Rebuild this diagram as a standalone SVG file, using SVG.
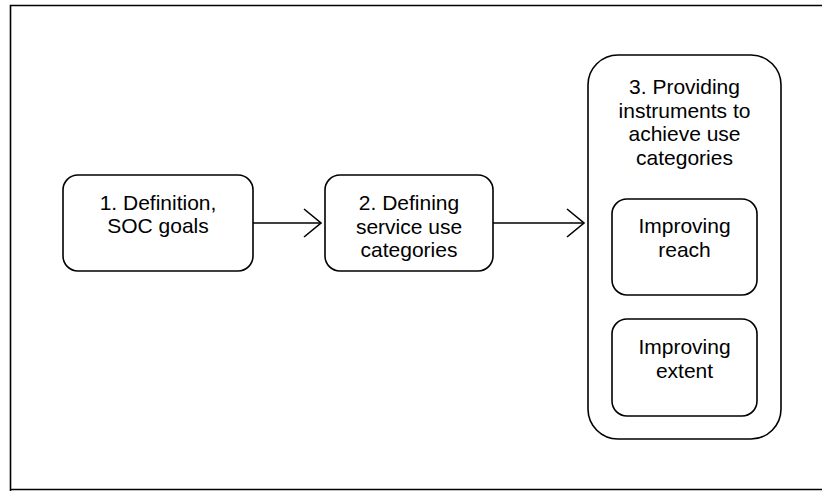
<svg xmlns="http://www.w3.org/2000/svg" width="822" height="491" viewBox="0 0 822 491">
  <style>
    .box { fill: #ffffff; stroke: #000000; stroke-width: 1.6; }
    .frame { fill: none; stroke: #000000; stroke-width: 1.6; }
    .lbl { font-family: "Liberation Sans", Arial, sans-serif; font-size: 21px; fill: #000000; text-anchor: middle; }
    .edge { fill: none; stroke: #000000; stroke-width: 1.6; }
  </style>
  <defs>
    <marker id="open-arrow" markerWidth="20" markerHeight="32" refX="18" refY="15" orient="auto" markerUnits="userSpaceOnUse">
      <path d="M1,1 L18,15 L1,29" fill="none" stroke="#000000" stroke-width="1.6"/>
    </marker>
  </defs>

  <rect width="822" height="491" fill="#ffffff"/>
  <!-- outer frame -->
  <path class="frame" d="M10.5,491 L10.5,5.5 L822,5.5 M10,489.5 L822,489.5"/>

  <g id="connectors">
    <line class="edge" x1="253" y1="223" x2="321" y2="223" marker-end="url(#open-arrow)"/>
    <line class="edge" x1="493" y1="223" x2="584" y2="223" marker-end="url(#open-arrow)"/>
  </g>

  <g id="node-definition">
    <rect class="box" x="63" y="175" width="190" height="96" rx="15" ry="15"/>
    <text class="lbl" x="158" y="210">1. Definition,</text>
    <text class="lbl" x="158" y="233">SOC goals</text>
  </g>

  <g id="node-categories">
    <rect class="box" x="325" y="175" width="168" height="96" rx="15" ry="15"/>
    <text class="lbl" x="409" y="210">2. Defining</text>
    <text class="lbl" x="409" y="234">service use</text>
    <text class="lbl" x="409" y="257">categories</text>
  </g>

  <g id="node-instruments">
    <rect class="box" x="588" y="55" width="193" height="384" rx="30" ry="30"/>
    <text class="lbl" x="684.5" y="94">3. Providing</text>
    <text class="lbl" x="684.5" y="118">instruments to</text>
    <text class="lbl" x="684.5" y="141">achieve use</text>
    <text class="lbl" x="684.5" y="165">categories</text>
  </g>

  <g id="node-reach">
    <rect class="box" x="612" y="199" width="145" height="96" rx="15" ry="15"/>
    <text class="lbl" x="684.5" y="233">Improving</text>
    <text class="lbl" x="684.5" y="257">reach</text>
  </g>

  <g id="node-extent">
    <rect class="box" x="612" y="319" width="145" height="97" rx="15" ry="15"/>
    <text class="lbl" x="684.5" y="354">Improving</text>
    <text class="lbl" x="684.5" y="378">extent</text>
  </g>
</svg>
